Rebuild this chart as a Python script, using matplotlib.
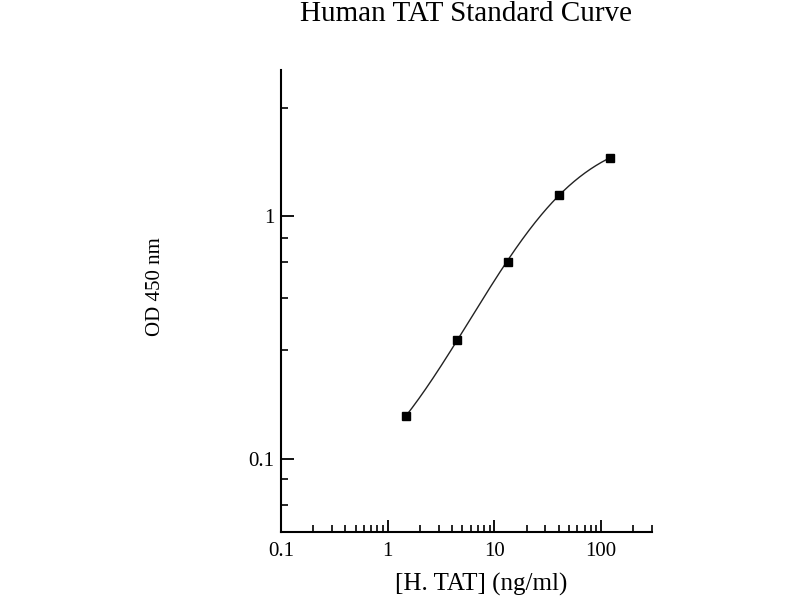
import numpy as np
import matplotlib
matplotlib.use("Agg")
import matplotlib.pyplot as plt
from matplotlib.ticker import FixedLocator, FixedFormatter, LogLocator, NullFormatter

# ---- data ----
conc = [1.48, 4.44, 13.33, 40.0, 120.0]          # [H. TAT] (ng/ml)
od = [0.150, 0.308, 0.650, 1.227, 1.729]          # OD 450 nm
x_ticks = [0.1, 1, 10, 100]
x_tick_labels = ["0.1", "1", "10", "100"]
y_ticks = [0.1, 1]
y_tick_labels = ["0.1", "1"]
title = "Human TAT Standard Curve"
xlabel = "[H. TAT] (ng/ml)"
ylabel = "OD 450 nm"

x = np.array(conc)
y = np.array(od)


# ---- 4-parameter logistic fit of the standards ----
def four_pl(xx, p):
    a, b, c, d = p
    return d + (a - d) / (1.0 + (xx / c) ** b)


def resid(p):
    with np.errstate(all="ignore"):
        m = four_pl(x, p)
        r = np.log(m) - np.log(y)
    return r


def cost(p):
    if p[2] <= 0:
        return np.inf
    r = resid(p)
    if not np.all(np.isfinite(r)):
        return np.inf
    return float(r @ r)


p = np.array([0.05, 1.0, 20.0, 2.5])
lam = 1e-3
for _ in range(2000):
    r = resid(p)
    J = np.zeros((len(x), 4))
    for k in range(4):
        h = 1e-6 * max(abs(p[k]), 1e-3)
        pp = p.copy()
        pp[k] += h
        J[:, k] = (resid(pp) - r) / h
    A = J.T @ J
    g = J.T @ r
    try:
        step = np.linalg.solve(A + lam * np.diag(np.diag(A) + 1e-12), -g)
    except np.linalg.LinAlgError:
        lam *= 10
        continue
    pn = p + step
    if cost(pn) < cost(p):
        p = pn
        lam = max(lam / 3, 1e-9)
    else:
        lam *= 3
        if lam > 1e9:
            break

xs = np.logspace(np.log10(x.min()), np.log10(x.max()), 300)
ys = four_pl(xs, p)

# ---- figure ----
plt.rcParams["font.family"] = ["Liberation Serif", "DejaVu Serif"]
fig = plt.figure(figsize=(8, 6), dpi=100)
ax = fig.add_axes([281 / 800, 1 - 532 / 600, (652 - 281) / 800, (532 - 70) / 600])

ax.plot(xs, ys, color="#222222", lw=1.0, zorder=2)
ax.plot(x, y, linestyle="none", marker="s", ms=6, color="black", zorder=3)

ax.set_xscale("log")
ax.set_yscale("log")
ax.set_xlim(0.1, 300)
ax.set_ylim(0.05, 4.0)

for s in ("top", "right"):
    ax.spines[s].set_visible(False)
for s in ("left", "bottom"):
    ax.spines[s].set_linewidth(1.5)

ax.xaxis.set_major_locator(FixedLocator(x_ticks))
ax.xaxis.set_major_formatter(FixedFormatter(x_tick_labels))
ax.xaxis.set_minor_locator(LogLocator(base=10, subs=np.arange(2, 10)))
ax.xaxis.set_minor_formatter(NullFormatter())

ax.yaxis.set_major_locator(FixedLocator(y_ticks))
ax.yaxis.set_major_formatter(FixedFormatter(y_tick_labels))
ax.yaxis.set_minor_locator(FixedLocator([0.0644, 0.0828, 0.281, 0.462, 0.647, 0.815, 2.8]))
ax.yaxis.set_minor_formatter(NullFormatter())

ax.tick_params(which="major", direction="in", length=9, width=1.3, labelsize=15,
               colors="black")
ax.tick_params(which="minor", direction="in", length=5, width=1.2)
ax.tick_params(axis="x", which="major", pad=7)
ax.tick_params(axis="y", which="major", pad=5)

ax.set_xlabel(xlabel, fontsize=18)
ax.xaxis.set_label_coords((481 - 281) / 371, (532 - 584) / 462)
ax.xaxis.label.set_verticalalignment("center")

ax.set_ylabel(ylabel, fontsize=15)
ax.yaxis.set_label_coords((156 - 281) / 371, (532 - 287) / 462)
ax.yaxis.label.set_verticalalignment("center")

fig.text(465.5 / 800, 1 - 21 / 600, title, ha="center", va="baseline", fontsize=21)

fig.savefig("out.png", dpi=100, facecolor="white")
